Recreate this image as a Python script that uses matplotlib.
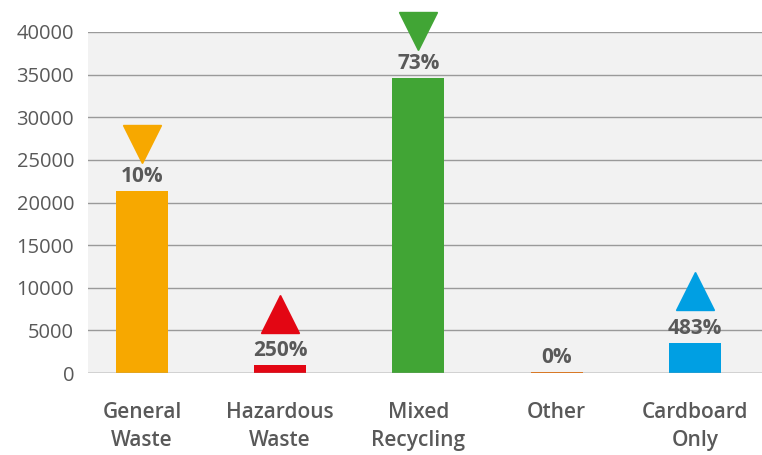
import matplotlib
matplotlib.use("Agg")
import matplotlib.pyplot as plt
from matplotlib.transforms import ScaledTranslation

categories = ["General\nWaste", "Hazardous\nWaste", "Mixed\nRecycling", "Other", "Cardboard\nOnly"]
values = [21300, 950, 34600, 120, 3550]
changes = ["10%", "250%", "73%", "0%", "483%"]
trend = ["down", "up", "down", None, "up"]
colors = ["#F7A800", "#E30613", "#41A535", "#E8720C", "#009FE3"]

TEXT = "#595959"
plt.rcParams["font.family"] = ["Open Sans", "DejaVu Sans"]

fig = plt.figure(figsize=(7.62, 4.55), dpi=100)
ax = fig.add_axes([0.1155, 0.180, 0.8845, 0.7497])
ax.set_facecolor("#F2F2F2")

x = list(range(len(categories)))
ax.bar(x, values, width=0.376, color=colors, zorder=2)

ax.set_xlim(-0.39, 4.485)
ax.set_ylim(0, 40000)
ax.set_yticks(range(0, 40001, 5000))
ax.yaxis.grid(True, color="#9A9A9A", lw=1.0, zorder=1)
ax.set_axisbelow(True)
for side in ("top", "right", "left", "bottom"):
    ax.spines[side].set_visible(False)
ax.axhline(0, color="#9A9A9A", lw=1.0, zorder=3)

ax.tick_params(axis="y", length=0, pad=10, labelsize=14.5, labelcolor=TEXT)
ax.tick_params(axis="x", length=0, pad=20.5, labelsize=15, labelcolor=TEXT)
ax.set_xticks(x)
ax.set_xticklabels(categories, fontweight="semibold", linespacing=1.45)

# change labels with direction arrows above each bar
for xi, v, txt, tr, c in zip(x, values, changes, trend, colors):
    ax.annotate(txt, (xi, v), xytext=(0, 10.5), textcoords="offset points",
                ha="center", va="center", fontsize=15, fontweight="bold",
                color=TEXT, zorder=4)
    if tr is not None:
        marker = "v" if tr == "down" else "^"
        off = 34 if tr == "down" else 37
        shift = ScaledTranslation(0, off / 72, fig.dpi_scale_trans)
        ax.plot([xi], [v], marker=marker, ms=27, color=c, ls="none",
                clip_on=False, zorder=4, transform=ax.transData + shift)

fig.savefig("out.png", dpi=100)
